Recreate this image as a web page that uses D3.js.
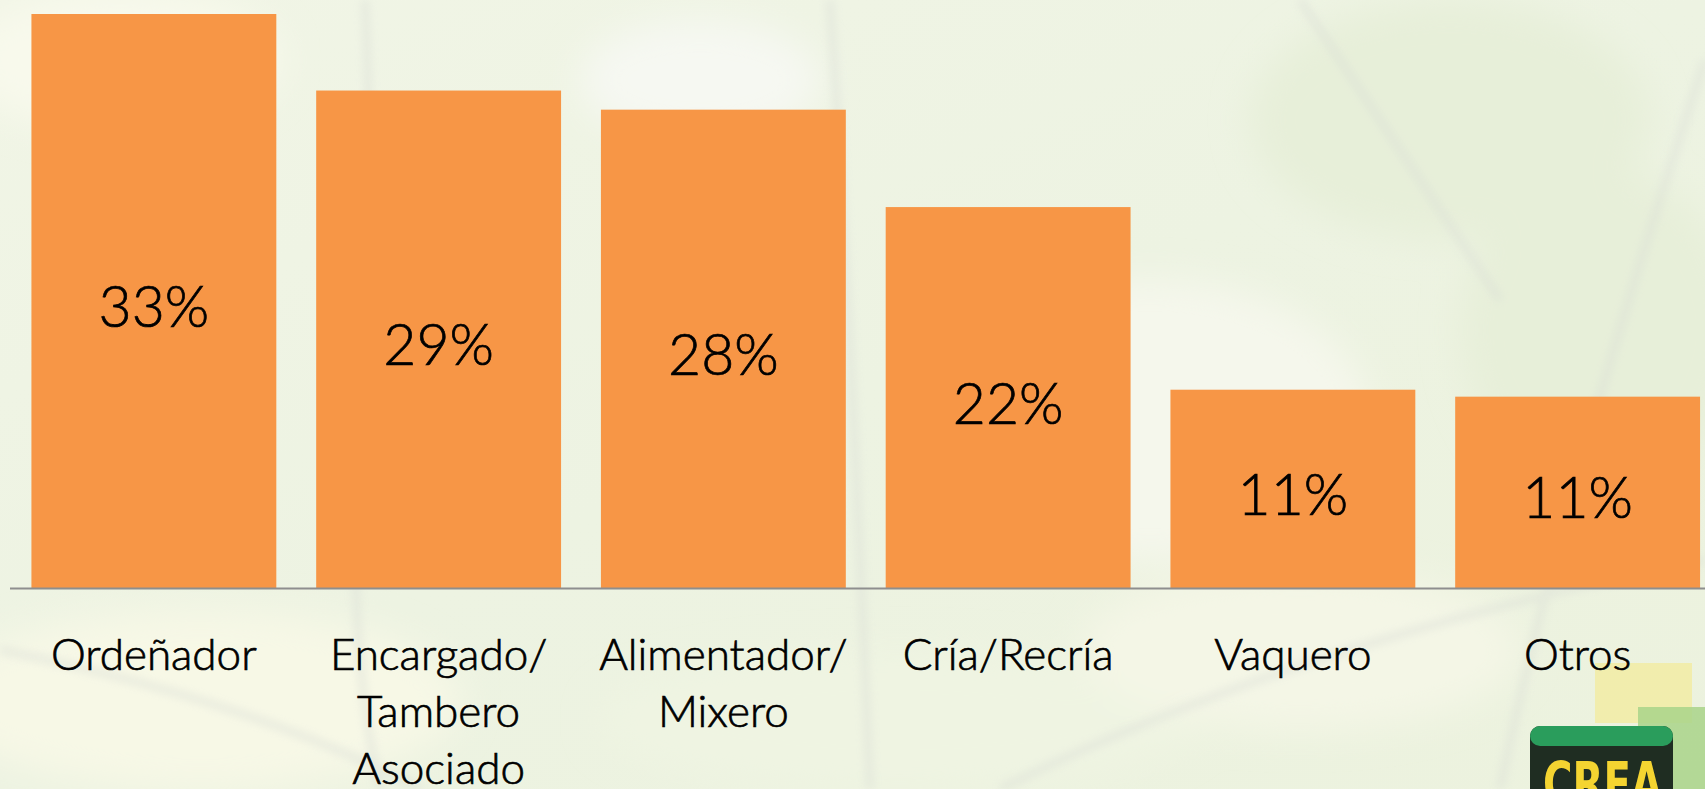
<!DOCTYPE html>
<html>
<head>
<meta charset="utf-8">
<script src="https://cdn.jsdelivr.net/npm/d3@7"></script>
<style>
  html, body { margin: 0; padding: 0; overflow: hidden; }
  body { width: 1705px; height: 789px; }
  text.lbl { font-family: Lato, "Noto Sans", sans-serif; font-weight: 300; fill: #000; stroke: #000; stroke-width: 0.7px; }
</style>
</head>
<body>
<div id="chart"></div>
<script>
// categories and values (percent)
var categories = ["Ordeñador", "Encargado/ Tambero Asociado", "Alimentador/ Mixero", "Cría/Recría", "Vaquero", "Otros"]
var labelLines = [["Ordeñador"], ["Encargado/", "Tambero", "Asociado"], ["Alimentador/", "Mixero"], ["Cría/Recría"], ["Vaquero"], ["Otros"]]
var values = [33.0, 28.6, 27.5, 21.9, 11.4, 11.0]

const width = 1705
const height = 789
const baseY = 588

const svg = d3.select("#chart").append("svg")
    .attr("width", width)
    .attr("height", height)

// background, pale leafy wash
const defs = svg.append("defs")
const grad = defs.append("linearGradient")
    .attr("id", "bg").attr("x1", 0).attr("y1", 0).attr("x2", 1).attr("y2", 1)
grad.append("stop").attr("offset", 0).attr("stop-color", "#f1f5e6")
grad.append("stop").attr("offset", 0.5).attr("stop-color", "#edf3e2")
grad.append("stop").attr("offset", 1).attr("stop-color", "#ecf2de")
svg.append("rect").attr("width", width).attr("height", height).attr("fill", "url(#bg)")

const blur = defs.append("filter").attr("id", "soft")
blur.append("feGaussianBlur").attr("stdDeviation", 18)
const blur2 = defs.append("filter").attr("id", "soft2")
blur2.append("feGaussianBlur").attr("stdDeviation", 4)

var leaves = [
    {cx: 120, cy: 60, rx: 160, ry: 70, c: "#f8f9ec"},
    {cx: 700, cy: 80, rx: 120, ry: 60, c: "#f6f8f2"},
    {cx: 1150, cy: 420, rx: 220, ry: 140, c: "#f5f7ec"},
    {cx: 1450, cy: 120, rx: 200, ry: 120, c: "#e7efd9"},
    {cx: 1600, cy: 330, rx: 140, ry: 160, c: "#e7efd9"},
    {cx: 200, cy: 700, rx: 260, ry: 90, c: "#f7f8e6"},
    {cx: 900, cy: 720, rx: 300, ry: 70, c: "#eff4e2"},
    {cx: 1300, cy: 650, rx: 220, ry: 80, c: "#f4f6e6"}
]
svg.append("g").attr("filter", "url(#soft)")
    .selectAll("ellipse").data(leaves).join("ellipse")
    .attr("cx", d => d.cx).attr("cy", d => d.cy)
    .attr("rx", d => d.rx).attr("ry", d => d.ry)
    .attr("fill", d => d.c)

// faint branches
var branches = [
    "M 365 0 Q 375 200 360 420 T 380 789",
    "M 830 0 Q 850 300 870 789",
    "M 1000 789 Q 1300 640 1705 560",
    "M 0 650 Q 250 700 420 789",
    "M 1500 789 Q 1560 500 1705 60",
    "M 1300 0 Q 1420 180 1500 300"
]
svg.append("g").attr("filter", "url(#soft2)").attr("opacity", 0.45)
    .selectAll("path").data(branches).join("path")
    .attr("d", d => d)
    .attr("fill", "none")
    .attr("stroke", "#d9ddd6")
    .attr("stroke-width", 8)

const x = d3.scaleBand()
    .domain(categories)
    .range([11.5, 1720])
    .paddingInner(0.14)
    .paddingOuter(0.07)

const y = d3.scaleLinear()
    .domain([0, 33])
    .range([baseY, 14])

svg.append("g").selectAll("rect.bar")
    .data(values).join("rect")
    .attr("class", "bar")
    .attr("x", (d, i) => x(categories[i]))
    .attr("width", x.bandwidth())
    .attr("y", d => y(d))
    .attr("height", d => y(0) - y(d))
    .attr("fill", "#f79646")

// axis baseline
svg.append("line")
    .attr("x1", 10).attr("x2", width)
    .attr("y1", y(0) + 0.5).attr("y2", y(0) + 0.5)
    .attr("stroke", "#8e8e8e")
    .attr("stroke-width", 2)

// value labels in the middle of each bar
svg.append("g").selectAll("text")
    .data(values).join("text")
    .attr("class", "lbl")
    .attr("x", (d, i) => x(categories[i]) + x.bandwidth() / 2)
    .attr("y", d => (y(d) + y(0)) / 2 + 26)
    .attr("text-anchor", "middle")
    .style("font-size", "57px")
    .text(d => Math.round(d) + "%")

// CREA logo, bottom right corner (squares sit behind the labels)
const logo = svg.append("g")
logo.append("rect").attr("x", 1595).attr("y", 663).attr("width", 97).attr("height", 60)
    .attr("fill", "#f3eba0").attr("opacity", 0.8)
logo.append("rect").attr("x", 1638).attr("y", 707).attr("width", 70).attr("height", 90)
    .attr("fill", "#a9d48a").attr("opacity", 0.85)
logo.append("rect").attr("x", 1530).attr("y", 726).attr("width", 143).attr("height", 90)
    .attr("rx", 10).attr("fill", "#1f2d22")
logo.append("rect").attr("x", 1530).attr("y", 726).attr("width", 143).attr("height", 20)
    .attr("rx", 10).attr("fill", "#2a9d5c")
logo.append("text").attr("x", 1543).attr("y", 804)
    .attr("textLength", 119).attr("lengthAdjust", "spacingAndGlyphs")
    .style("font-size", "58px").style("font-weight", "bold")
    .style("font-family", "'Liberation Sans Narrow', 'DejaVu Sans Condensed', sans-serif")
    .style("fill", "#f4d431")
    .text("CREA")

// category labels
const cat = svg.append("g").selectAll("text")
    .data(categories).join("text")
    .attr("class", "lbl")
    .attr("text-anchor", "middle")
    .attr("x", d => x(d) + x.bandwidth() / 2)
    .attr("y", 670)
    .style("font-size", "44px")
cat.each(function (d, i) {
    d3.select(this).selectAll("tspan")
        .data(labelLines[i]).join("tspan")
        .attr("x", x(d) + x.bandwidth() / 2)
        .attr("dy", (t, j) => j === 0 ? 0 : 57)
        .text(t => t)
})
</script>
</body>
</html>
